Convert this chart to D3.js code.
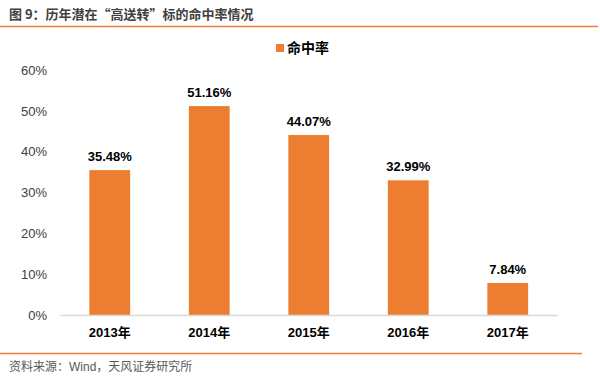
<!DOCTYPE html>
<html><head><meta charset="utf-8">
<script src="https://cdn.jsdelivr.net/npm/d3@7"></script>
<style>body{margin:0;background:#fff}svg{display:block}</style>
</head><body>
<svg id="c" width="600" height="379"></svg>
<script>
const categories = ["2013年","2014年","2015年","2016年","2017年"];
const values = [35.48, 51.16, 44.07, 32.99, 7.84];
const valueLabels = ["35.48%","51.16%","44.07%","32.99%","7.84%"];
const yTicks = [0,10,20,30,40,50,60];
const seriesName = "命中率";
const titleText = "图 9：历年潜在“高送转”标的命中率情况";
const sourceText = "资料来源：Wind，天风证券研究所";

const svg = d3.select("#c");
const font = "'Liberation Sans', Arial, 'Noto Sans CJK SC', sans-serif";
const orange = "#ED7D31";

svg.append("text").attr("x",9).attr("y",19).attr("font-family","'Noto Sans CJK SC', sans-serif")
  .attr("font-size",13).attr("font-weight","bold").attr("fill","#404040").text(titleText);
svg.append("line").attr("x1",0).attr("x2",598).attr("y1",26.5).attr("y2",26.5)
  .attr("stroke",orange).attr("stroke-width",1.5);
svg.append("line").attr("x1",0).attr("x2",582).attr("y1",353.5).attr("y2",353.5)
  .attr("stroke",orange).attr("stroke-width",1.5);
svg.append("text").attr("x",9).attr("y",371).attr("font-family",font)
  .attr("font-size",12).attr("fill","#595959").text(sourceText);

const x = d3.scaleBand().domain(categories).range([60,557.5]).paddingInner(0.59).paddingOuter(0.295);
const y = d3.scaleLinear().domain([0,60]).range([315,70]);

const yAxis = d3.axisLeft(y).tickValues(yTicks).tickFormat(d=>d+"%").tickSize(0).tickPadding(0);
const ya = svg.append("g").attr("transform","translate(47,0)").call(yAxis);
ya.select(".domain").remove();
ya.selectAll("text").attr("font-family",font).attr("font-size",13).attr("fill","#404040");

svg.selectAll("rect.bar").data(values).enter().append("rect").attr("class","bar")
  .attr("x",(d,i)=>x(categories[i])).attr("width",x.bandwidth())
  .attr("y",d=>y(d)).attr("height",d=>y(0)-y(d)).attr("fill",orange);

const xAxis = d3.axisBottom(x).tickSize(0).tickPadding(13);
const xa = svg.append("g").attr("transform","translate(0,315)").call(xAxis);
xa.select(".domain").attr("stroke","#d9d9d9").attr("stroke-width",1.5);
xa.selectAll("text").attr("font-family",font).attr("font-size",13).attr("font-weight","bold").attr("fill","#000");

svg.selectAll("text.vl").data(values).enter().append("text").attr("class","vl")
  .attr("x",(d,i)=>x(categories[i])+x.bandwidth()/2).attr("y",d=>y(d)-9)
  .attr("text-anchor","middle").attr("font-family",font).attr("font-size",13)
  .attr("font-weight","bold").attr("fill","#000").text((d,i)=>valueLabels[i]);

const lg = svg.append("g").attr("transform","translate(276,44)");
lg.append("rect").attr("width",8).attr("height",8).attr("fill",orange);
lg.append("text").attr("x",11).attr("y",9).attr("font-family",font).attr("font-size",14)
  .attr("font-weight","bold").attr("fill","#000").text(seriesName);
</script>
</body></html>
